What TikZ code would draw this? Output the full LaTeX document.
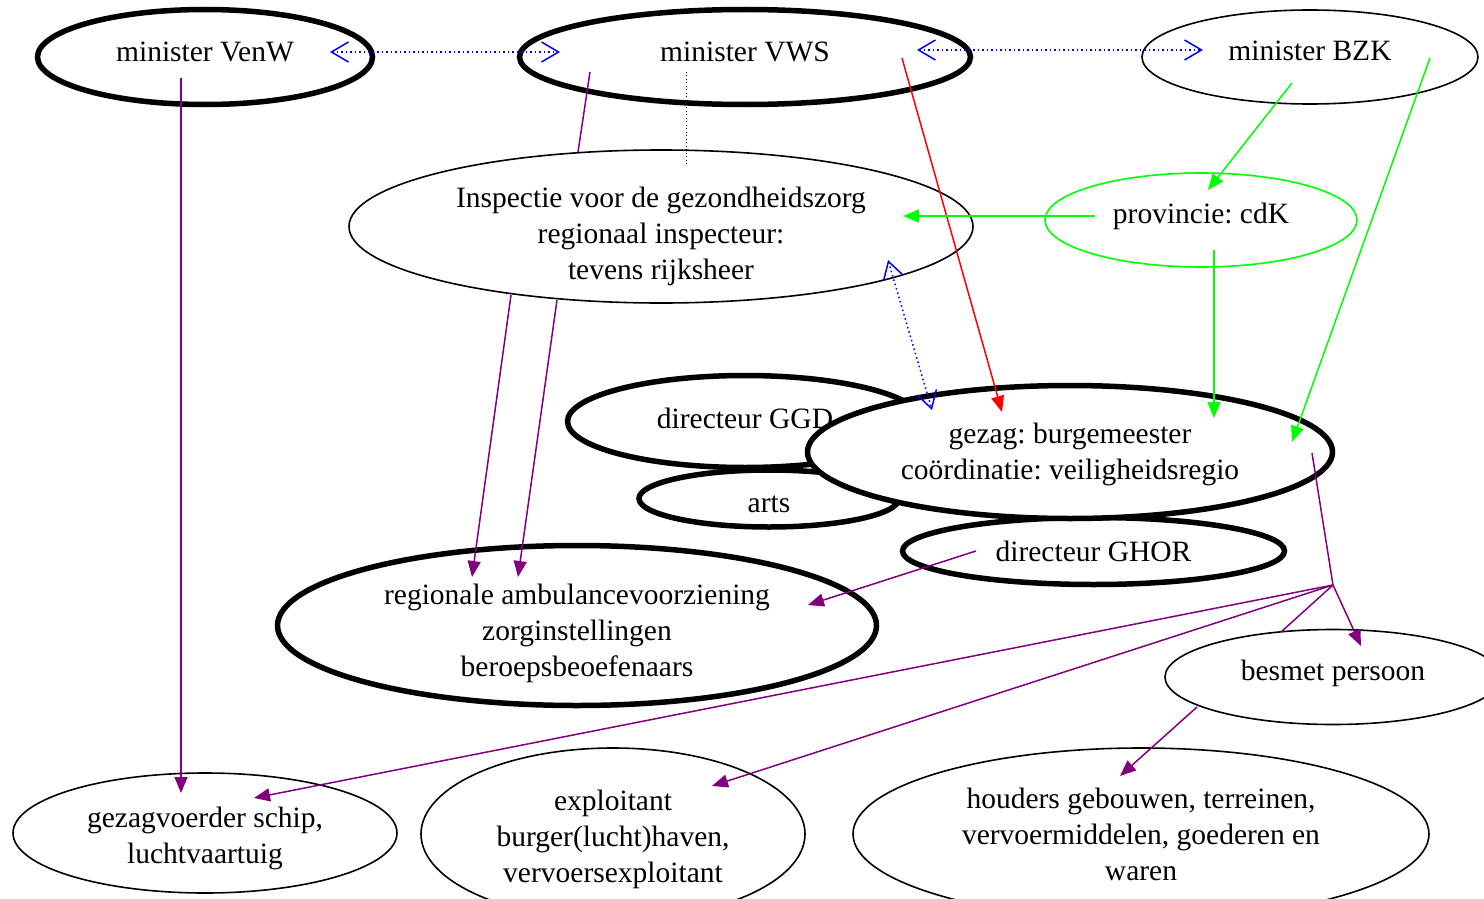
\documentclass[tikz,border=0pt]{standalone}
\usepackage{fontspec}
\setmainfont{Liberation Serif}
\frenchspacing
\usetikzlibrary{arrows.meta,shapes.geometric}
\definecolor{vpurple}{RGB}{128,0,128}
\definecolor{vgreen}{RGB}{0,255,0}
\definecolor{vblue}{RGB}{0,0,255}
\definecolor{vred}{RGB}{255,0,0}
\tikzset{
  ell/.style={ellipse, draw=black, fill=white, line width=1.6pt, inner sep=0pt},
  boldell/.style={ell, line width=5.5pt},
  greenell/.style={ell, draw=vgreen},
  txt/.style={font=\fontsize{29.5}{36}\selectfont\frenchspacing, align=center, inner sep=0pt},
  tip/.style={-{Triangle[length=16pt,width=13pt]}},
  pur/.style={draw=vpurple, line width=1.5pt},
  purarr/.style={pur, tip},
  grn/.style={draw=vgreen, line width=1.5pt, tip},
  redarr/.style={draw=vred, line width=1.5pt, tip},
  blu/.style={draw=vblue, line width=1.5pt, dash pattern=on 1.5pt off 3pt,
    {Straight Barb[length=17pt,width=20pt]}-{Straight Barb[length=17pt,width=20pt]}},
  blk/.style={draw=black, line width=1pt, dash pattern=on 1pt off 2.5pt}
}
\begin{document}
\begin{tikzpicture}[x=1pt,y=-1pt]
\useasboundingbox (0,0) rectangle (1484,899);
\clip (0,0) rectangle (1484,899);
% ellipses
\node[boldell, minimum width=335, minimum height=95, label={[txt,yshift=5pt]center:{minister VenW}}] (venw) at (205,57) {};
\node[boldell, minimum width=451, minimum height=95, label={[txt,yshift=5pt]center:{minister VWS}}] (vws) at (745,57) {};
\node[ell, minimum width=336, minimum height=94, label={[txt,yshift=6pt]center:{minister BZK}}] (bzk) at (1310,57) {};
\node[ell, minimum width=624, minimum height=153, label={[txt,yshift=-10pt]center:{Inspectie voor de gezondheidszorg\\regionaal inspecteur:\\tevens rijksheer}}] (insp) at (661,226.5) {};
\node[greenell, minimum width=312, minimum height=94, label={[txt,yshift=3.5pt]center:{provincie: cdK}}] (prov) at (1201,220) {};
\node[boldell, minimum width=260, minimum height=57, label={[txt,yshift=-6pt]center:{arts}}] (arts) at (769,498.5) {};
\node[boldell, minimum width=355, minimum height=92, label={[txt,yshift=3.5pt]center:{directeur GGD}}] (ggd) at (745,421.5) {};
\node[boldell, minimum width=382, minimum height=67, label={[txt,yshift=0pt]center:{directeur GHOR}}] (ghor) at (1093.5,551) {};
\node[boldell, minimum width=525, minimum height=133, label={[txt,yshift=-2.5pt]center:{gezag: burgemeester\\co\"ordinatie: veiligheidsregio}}] (gezag) at (1070,452) {};
\node[boldell, minimum width=599, minimum height=160, label={[txt,yshift=-8pt]center:{regionale ambulancevoorziening\\zorginstellingen\\beroepsbeoefenaars}}] (reg) at (577,625.5) {};
\node[ell, minimum width=336, minimum height=95, label={[txt,yshift=3.5pt]center:{besmet persoon}}] (besmet) at (1333,677) {};
\node[ell, minimum width=384, minimum height=120, label={[txt,yshift=-5.5pt]center:{gezagvoerder schip,\\luchtvaartuig}}] (gv) at (205,833) {};
\node[ell, minimum width=384, minimum height=172, label={[txt,yshift=-5pt]center:{exploitant\\burger(lucht)haven,\\vervoersexploitant}}] (expl) at (613,834) {};
\node[ell, minimum width=576, minimum height=172, label={[txt,yshift=0pt]center:{houders gebouwen, terreinen,\\vervoermiddelen, goederen en\\waren}}] (houders) at (1141,834) {};
\coordinate (split) at (1333,585);
% connectors
\draw[blu] ([shift={(125,-5)}]venw.center) -- ([shift={(-185,-5)}]vws.center);
\draw[blu] ([shift={(172,-7)}]vws.center) -- ([shift={(-107,-7)}]bzk.center);
\draw[purarr] ([shift={(-24,21)}]venw.center) -- ([shift={(-24,-40)}]gv.center);
\draw[pur] ([shift={(-155,15)}]vws.center) -- ([shift={(-83,-74.5)}]insp.center);
\draw[blk] ([shift={(-59,15)}]vws.center) -- ([shift={(25,-61.5)}]insp.center);
\draw[redarr] ([shift={(157,1)}]vws.center) -- ([shift={(-68,-40)}]gezag.center);
\draw[grn] ([shift={(-18,26)}]bzk.center) -- ([shift={(7,-30)}]prov.center);
\draw[grn] ([shift={(120,1)}]bzk.center) -- ([shift={(222,-10)}]gezag.center);
\draw[grn] ([shift={(-106,-4)}]prov.center) -- ([shift={(242,-10.5)}]insp.center);
\draw[grn] ([shift={(13,30)}]prov.center) -- ([shift={(144,-34)}]gezag.center);
\draw[blu] ([shift={(227,33.5)}]insp.center) -- ([shift={(-138,-42)}]gezag.center);
\draw[purarr] ([shift={(-150,68.5)}]insp.center) -- ([shift={(-105,-48.5)}]reg.center);
\draw[purarr] ([shift={(-104,73.5)}]insp.center) -- ([shift={(-59,-48.5)}]reg.center);
\draw[purarr] ([shift={(-117.5,0)}]ghor.center) -- ([shift={(231,-20.5)}]reg.center);
\draw[pur] ([shift={(242,1)}]gezag.center) -- (split);
\draw[purarr] (split) -- ([shift={(28,-31)}]besmet.center);
\draw[pur] (split) -- ([shift={(-52,-45)}]besmet.center);
\draw[purarr] (split) -- ([shift={(49,-35)}]gv.center);
\draw[purarr] (split) -- ([shift={(99,-48)}]expl.center);
\draw[purarr] ([shift={(-136,30)}]besmet.center) -- ([shift={(-21,-58)}]houders.center);
\end{tikzpicture}
\end{document}
